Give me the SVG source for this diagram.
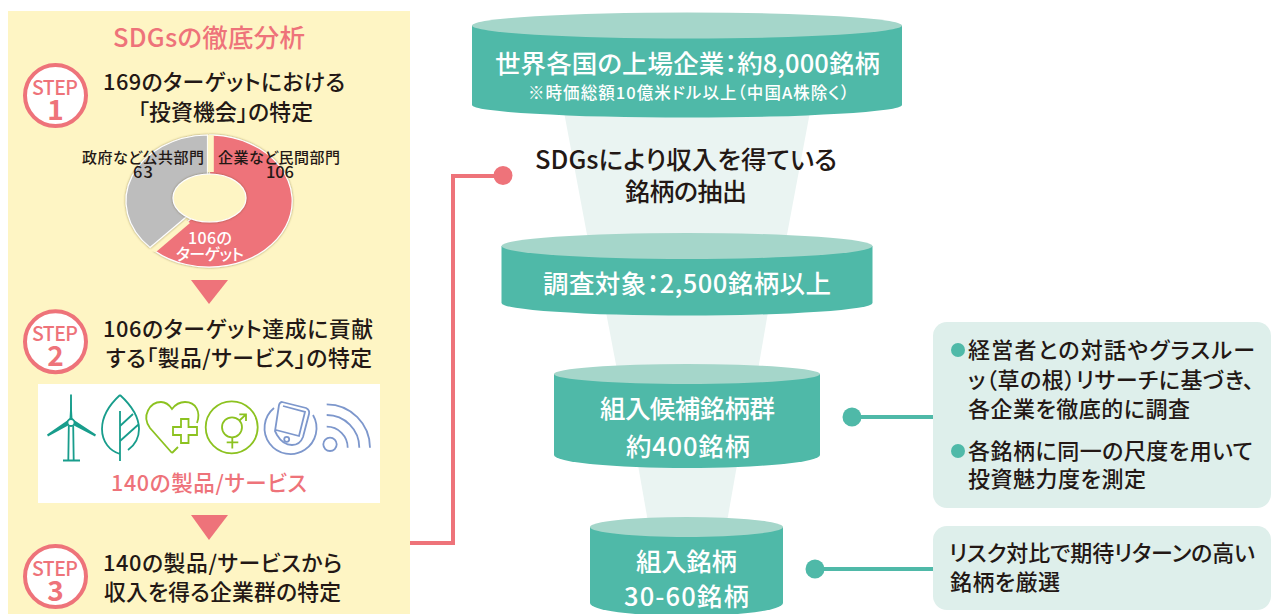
<svg xmlns="http://www.w3.org/2000/svg" width="1271" height="614" viewBox="0 0 1271 614">
<defs><filter id="sh" x="-10%" y="-10%" width="120%" height="120%"><feDropShadow dx="0" dy="0" stdDeviation="1" flood-color="#5a4a20" flood-opacity=".6"/></filter></defs>
<style>
text{font-family:"Noto Sans CJK JP","Noto Sans",sans-serif;font-weight:500;font-feature-settings:"palt"}
.t{font-size:21.800px;fill:#231815}
.w{fill:#fff;font-size:25.500px}
.p{fill:#ee737a}
.f{fill:#eaf4f2}
.c{fill:#4fb9a8}
.ct{fill:#a5d6ca}
.b{fill:#deefeb}
.l{font-size:22px;fill:#231815}
.s{fill:#fff;stroke:#ee737a;stroke-width:4}
.st{fill:#ee737a;font-size:19.500px}
.n{fill:#ee737a;font-size:28px;font-weight:700;text-anchor:middle}
.k{font-size:15px;fill:#231815}
.g1{fill:none;stroke:#189d8c;stroke-width:1.800}
.g1f{fill:#189d8c}
.g2{fill:none;stroke:#8cc220;stroke-width:1.800}
.g3{fill:none;stroke:#7d97cc;stroke-width:1.800}
</style>
<rect id="panel" x="8" y="11" width="402" height="603" fill="#fef5c4"/>
<text x="113" y="47" font-size="25.500" class="p" textLength="192">SDGsの徹底分析</text>
<g id="step1"><circle cx="55.500" cy="95.500" r="30.500" class="s"/><text x="32" y="95" class="st" textLength="46">STEP</text><text x="55.500" y="120" class="n">1</text>
<text x="103" y="90" class="t" textLength="242">169のターゲットにおける</text><text x="138" y="120" class="t" textLength="175">「投資機会」の特定</text></g>
<g id="pie">
<path filter="url(#sh)" d="M214 135.200A83 66 0 1 1 154 250.400L209.500 203V135.200Z" fill="#ee737a" stroke="#fff" stroke-width="1.200"/>
<path filter="url(#sh)" d="M207.500 135A83 66 0 0 0 150 247.400L207.500 199Z" fill="#bdbdbd" stroke="#fff" stroke-width="1.200"/>
<ellipse filter="url(#sh)" cx="209.500" cy="198" rx="36.500" ry="24" fill="#fef5c4" stroke="#fff" stroke-width="1.200"/>
<rect x="207.800" y="135" width="6" height="37" fill="#fef5c4"/>
<path d="M150 251L186 220L190 223L156 252Z" fill="#fef5c4"/>
<text x="82" y="163" class="k" textLength="122">政府など公共部門</text><text x="133" y="178" class="k" font-size="16" style="font-size:16.500px" textLength="20">63</text>
<text x="218" y="163" class="k" textLength="122">企業など民間部門</text><text x="266" y="178" class="k" style="font-size:16.500px" textLength="28">106</text>
<text x="188" y="244" font-size="16" fill="#fff" textLength="44">106の</text><text x="176" y="260" font-size="16" fill="#fff" textLength="68">ターゲット</text>
</g>
<polygon points="191,280 228,280 209,304" class="p"/>
<g id="step2"><circle cx="55.500" cy="341.700" r="30.500" class="s"/><text x="32" y="341" class="st" textLength="46">STEP</text><text x="55.500" y="366" class="n">2</text>
<text x="103" y="337" class="t" textLength="270">106のターゲット達成に貢献</text><text x="106" y="366" class="t" textLength="266">する「製品/サービス」の特定</text></g>
<g id="products"><rect x="38" y="384" width="342" height="119" fill="#fff"/>
<text x="111" y="491" font-size="21.500" class="p" textLength="196">140の製品/サービス</text>
<g id="icons">
<path class="g1" d="M71 426V394.500M68.800 426L68.300 460.500M73.200 426L73.700 460.500M63 460.500H80"/>
<path class="g1f" d="M69.500 419L71 394L72.500 419ZM68 420L47 434.500L48 436.500L69 425ZM74 420L96 434.500L95 436.500L73 425Z"/><circle cx="71" cy="422.500" r="3.500" fill="#fff" stroke="#189d8c" stroke-width="1.800"/>
<path class="g1" d="M120 395C108 406 102 416 102 429C102 442 110 451 120 454M120 395C132 406 139 418 139 429C139 438 135 445 128 450M120 411V461M120 426L133 414M120 441L139 424"/>
<path class="g2" d="M172 453L150 428C141 416 150 402 161 402C167 402 170 406 172 409C175 405 179 402 185 402C196 402 201 412 197 423M172 453L178 447M181 427V419H188.500V427H197V435H188.500V443H181V435H173V427Z"/>
<circle class="g2" cx="231.700" cy="427.300" r="26"/><circle class="g2" cx="232" cy="427.300" r="10"/><path class="g2" d="M232.300 437.300V448.500M226.700 442.300H238.300M239.500 420.500L246 414.300M239.300 414.300H246V421"/>
<path class="g3" d="M282 402L306 408Q310 410 309 414L303 437Q300 445 292 445Q283 445 277 435L275 431L279 405Q280 402 282 402ZM283 406L305 412L299 436L276 430"/><path class="g3" d="M274 408A26 26 0 1 0 313 415"/><circle class="g3" cx="286.700" cy="439.300" r="2.500"/>
<circle class="g3" cx="330" cy="444.300" r="6.700"/><path class="g3" d="M326.700 426.700A21 21 0 0 1 347.700 447.700M326.700 415A32.700 32.700 0 0 1 359.300 447.700M326.700 404.300A43.400 43.400 0 0 1 370 447.700"/>
</g></g>
<polygon points="191,515 228,515 209,540" class="p"/>
<g id="step3"><circle cx="55.500" cy="576.500" r="30.500" class="s"/><text x="32" y="575.700" class="st" textLength="46">STEP</text><text x="55.500" y="600.700" class="n">3</text>
<text x="103" y="571" class="t" textLength="239">140の製品/サービスから</text><text x="104" y="600" class="t" textLength="237">収入を得る企業群の特定</text></g>

<g id="funnel-bg"><polygon points="564,112 810,112 786,240 588,240" class="f"/><polygon points="606,312 768,312 758,370 617,370" class="f"/><polygon points="638,465 737,465 727,522 648,522" class="f"/></g>
<g id="cyl1"><path d="M472 25.500V105A215 12.500 0 0 0 902 105V25.500Z" class="c"/><ellipse cx="687" cy="25.500" rx="215" ry="13" class="ct"/><text x="495" y="73" class="w" textLength="385">世界各国の上場企業：約8,000銘柄</text><text x="528" y="99" font-size="16.500" fill="#fff" textLength="321">※時価総額10億米ドル以上（中国A株除く）</text></g>
<g id="extract"><text x="535" y="169" font-size="25.500" fill="#231815" textLength="302">SDGsにより収入を得ている</text><text x="625" y="201" font-size="25" fill="#231815" textLength="122">銘柄の抽出</text></g>
<g id="cyl2"><path d="M501.500 246V303A185.500 12.500 0 0 0 872.500 303V246Z" class="c"/><ellipse cx="687" cy="246" rx="185.500" ry="13" class="ct"/><text x="543" y="293" class="w" textLength="288">調査対象：2,500銘柄以上</text></g>
<g id="cyl3"><path d="M554 374V455A133 13 0 0 0 820 455V374Z" class="c"/><ellipse cx="687" cy="374" rx="133" ry="10" class="ct"/><text x="600" y="418" class="w" textLength="175">組入候補銘柄群</text><text x="626" y="456" class="w" textLength="124">約400銘柄</text></g>
<g id="cyl4"><path d="M590 527V603A96.500 13 0 0 0 783 603V527Z" class="c"/><ellipse cx="686.500" cy="527" rx="96.500" ry="10" class="ct"/><text x="636" y="571" class="w" textLength="101">組入銘柄</text><text x="624" y="606" class="w" textLength="125">30-60銘柄</text></g>

<g id="connectors" fill="none">
<path d="M410 543H453V176H503" stroke="#ee737a" stroke-width="4"/><circle cx="503" cy="175.500" r="9.500" fill="#ee737a"/>
<path d="M852 417H933" stroke="#4fb9a8" stroke-width="4"/><circle cx="852" cy="417" r="9.500" fill="#4fb9a8"/>
<path d="M815 569H933" stroke="#4fb9a8" stroke-width="4"/><circle cx="815" cy="569" r="9.500" fill="#4fb9a8"/>
</g>
<g id="note1"><rect x="933" y="322" width="338" height="186" rx="14" class="b"/><circle cx="958" cy="350" r="7" fill="#4fb9a8"/><circle cx="958" cy="451" r="7" fill="#4fb9a8"/>
<text x="968" y="358" class="l" textLength="287">経営者との対話やグラスルー</text><text x="968" y="388" class="l" textLength="286">ッ（草の根）リサーチに基づき、</text><text x="968" y="417" class="l" textLength="222">各企業を徹底的に調査</text><text x="968" y="459" class="l" textLength="285">各銘柄に同一の尺度を用いて</text><text x="968" y="487" class="l" textLength="178">投資魅力度を測定</text></g>
<g id="note2"><rect x="933" y="526" width="338" height="84" rx="14" class="b"/><text x="949" y="561" class="l" textLength="306">リスク対比で期待リターンの高い</text><text x="950" y="590" class="l" textLength="110">銘柄を厳選</text></g>
</svg>
